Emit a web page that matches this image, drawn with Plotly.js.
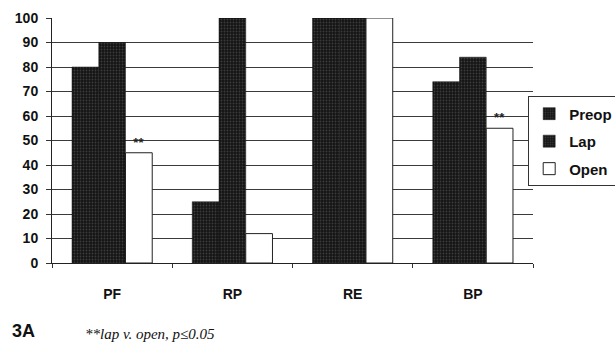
<!DOCTYPE html>
<html>
<head>
<meta charset="utf-8">
<script src="https://cdn.plot.ly/plotly-3.0.1.min.js"></script>
<style>html,body{margin:0;padding:0;background:#fff;overflow:hidden;}#chart{width:615px;height:344px;}</style>
</head>
<body>
<div id="chart"></div>
<script>
const categories = ["PF", "RP", "RE", "BP"];
const preop = [80, 25, 100, 74];
const lap = [90, 100, 100, 84];
const open = [45, 12, 100, 55];
const openMarks = ["**", "", "", "**"];
const yTicks = [0, 10, 20, 30, 40, 50, 60, 70, 80, 90, 100];

const font = "Liberation Sans, Arial, sans-serif";
const darkPattern = {shape: ".", bgcolor: "#141414", fgcolor: "#3c3c3c", size: 3, solidity: 0.3};

const traces = [
  {type: "bar", name: "Preop", legendgroup: "a", x: categories, y: preop,
   marker: {color: "#141414", pattern: darkPattern, line: {color: "#111", width: 0.5}}},
  {type: "bar", name: "Lap", legendgroup: "b", x: categories, y: lap,
   marker: {color: "#141414", pattern: darkPattern, line: {color: "#111", width: 0.5}}},
  {type: "bar", name: "Open", legendgroup: "c", x: categories, y: open,
   text: openMarks, textposition: "outside", cliponaxis: false,
   textfont: {family: font, size: 13, color: "#222", weight: "bold"},
   marker: {color: "#ffffff", line: {color: "#222", width: 1}}}
];

const layout = {
  width: 615, height: 344,
  margin: {l: 52, r: 82, t: 18, b: 81, autoexpand: false},
  paper_bgcolor: "#fff", plot_bgcolor: "#fff",
  barmode: "group", bargap: 0.333, bargroupgap: 0,
  showlegend: true,
  legend: {x: 0.99, y: 0.68, xanchor: "left", yanchor: "top",
           bordercolor: "#333", borderwidth: 1, bgcolor: "#fff",
           font: {family: font, size: 15, color: "#111", weight: "bold"},
           itemwidth: 30, traceorder: "grouped", tracegroupgap: 5},
  font: {family: font, color: "#111"},
  xaxis: {type: "category", tickson: "boundaries", ticks: "outside", ticklen: 4,
          tickcolor: "#333", showline: true, linecolor: "#222", linewidth: 1,
          showgrid: false, ticklabelstandoff: 18,
          tickfont: {family: font, size: 14, color: "#111", weight: "bold"}},
  yaxis: {range: [0, 100], tickvals: yTicks, ticks: "outside", ticklen: 5,
          tickcolor: "#333", showline: true, linecolor: "#222", linewidth: 1,
          showgrid: true, gridcolor: "#3a3a3a", gridwidth: 1, zeroline: false,
          ticklabelstandoff: 5,
          tickfont: {family: font, size: 14, color: "#111", weight: "bold"}},
  annotations: [
    {xref: "paper", yref: "paper", x: -0.088, y: -0.325, xanchor: "left", yanchor: "bottom",
     text: "<b>3A</b>", showarrow: false, font: {family: font, size: 18, color: "#111"}},
    {xref: "paper", yref: "paper", x: 0.065, y: -0.25, xanchor: "left", yanchor: "top",
     text: "<i>**lap v. open, p≤0.05</i>", showarrow: false,
     font: {family: "Liberation Serif, Times New Roman, serif", size: 15, color: "#111"}}
  ]
};

Plotly.newPlot("chart", traces, layout, {displayModeBar: false, staticPlot: true});
</script>
</body>
</html>
